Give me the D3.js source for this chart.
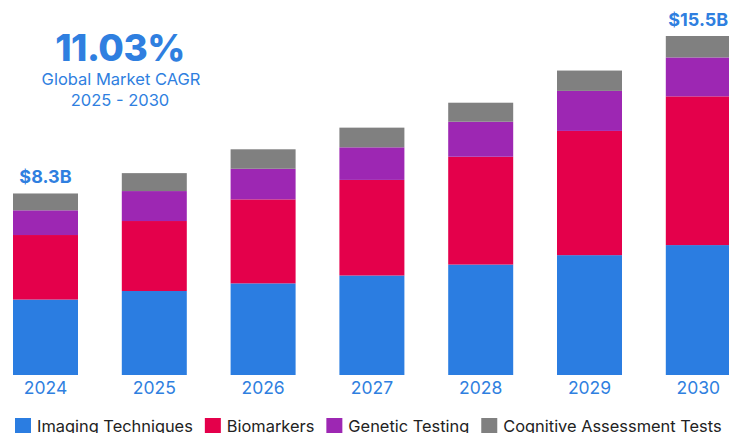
<!DOCTYPE html>
<html>
<head>
<meta charset="utf-8">
<script src="https://cdn.jsdelivr.net/npm/d3@7"></script>
<style>
  html, body { margin: 0; padding: 0; background: #fff; overflow: hidden; }
  svg { display: block; font-family: Inter, "Noto Sans", sans-serif; }
</style>
</head>
<body>
<div id="chart"></div>
<script>
const WIDTH = 729;
const HEIGHT = 433;
const BASELINE = 375;

// data (USD billions)
const years = ['2024', '2025', '2026', '2027', '2028', '2029', '2030'];
const segments = ['Imaging Techniques', 'Biomarkers', 'Genetic Testing', 'Cognitive Assessment Tests'];
const imaging   = [3.45, 3.84, 4.19, 4.55, 5.05, 5.48, 5.94];
const biomarker = [2.95, 3.20, 3.84, 4.37, 4.93, 5.68, 6.80];
const genetic   = [1.13, 1.37, 1.40, 1.49, 1.60, 1.83, 1.78];
const cognitive = [0.77, 0.82, 0.89, 0.90, 0.87, 0.93, 0.98];
const totalLabels = { '2024': '$8.3B', '2030': '$15.5B' };

const COLORS = ['#2B7DE1', '#E4004B', '#9D27B3', '#808080'];
const BLUE_TEXT = '#2F7FE0';

const rows = years.map((y, i) => ({
  year: y,
  'Imaging Techniques': imaging[i],
  'Biomarkers': biomarker[i],
  'Genetic Testing': genetic[i],
  'Cognitive Assessment Tests': cognitive[i]
}));

const svg = d3.select('#chart')
  .append('svg')
    .attr('width', WIDTH)
    .attr('height', HEIGHT);

const xscale = d3.scaleBand()
  .domain(years)
  .range([13, 730.8])
  .paddingInner(0.4026)
  .paddingOuter(0);

const yscale = d3.scaleLinear()
  .domain([0, 15.5])
  .range([BASELINE, BASELINE - 339]);

const stack = d3.stack().keys(segments);
const series = stack(rows);

svg.selectAll('g.layer')
  .data(series)
  .enter()
  .append('g')
    .attr('class', 'layer')
    .attr('fill', (d, i) => COLORS[i])
  .selectAll('rect')
  .data(d => d)
  .enter()
  .append('rect')
    .attr('x', d => xscale(d.data.year))
    .attr('y', d => yscale(d[1]))
    .attr('width', xscale.bandwidth())
    .attr('height', d => yscale(d[0]) - yscale(d[1]));

// total labels on first and last bar
svg.selectAll('text.total')
  .data(rows.filter(r => totalLabels[r.year]))
  .enter()
  .append('text')
    .attr('class', 'total')
    .attr('x', d => xscale(d.year) + xscale.bandwidth() / 2)
    .attr('y', d => yscale(d3.sum(segments, k => d[k])) - 10)
    .attr('text-anchor', 'middle')
    .attr('fill', BLUE_TEXT)
    .style('font-size', '18px')
    .style('font-weight', 700)
    .text(d => totalLabels[d.year]);

// x axis labels
const axisBottom = d3.axisBottom(xscale).tickSize(0).tickPadding(0);
const xAxis = svg.append('g')
  .attr('transform', `translate(0, ${BASELINE})`)
  .call(axisBottom);
xAxis.select('.domain').remove();
xAxis.selectAll('text')
  .attr('dy', null)
  .attr('y', 19)
  .attr('fill', BLUE_TEXT)
  .style('font-family', 'Inter, "Noto Sans", sans-serif')
  .style('font-size', '17.5px');

// CAGR annotation
const note = svg.append('g').attr('text-anchor', 'middle').attr('fill', BLUE_TEXT);
note.append('text')
  .attr('x', 120).attr('y', 61)
  .style('font-size', '37px')
  .style('font-weight', 800)
  .style('letter-spacing', '-0.5px')
  .text('11.03%');
note.append('text')
  .attr('x', 121).attr('y', 85)
  .style('font-size', '16.5px')
  .text('Global Market CAGR');
note.append('text')
  .attr('x', 120).attr('y', 106)
  .style('font-size', '16.5px')
  .text('2025 - 2030');

// legend
const legend = svg.append('g').attr('transform', 'translate(15, 418)');
let lx = 0;
segments.forEach((s, i) => {
  const item = legend.append('g').attr('transform', `translate(${lx}, 0)`);
  item.append('rect')
    .attr('width', 16).attr('height', 16)
    .attr('fill', COLORS[i]);
  const t = item.append('text')
    .attr('x', 22).attr('y', 14)
    .attr('fill', '#222')
    .style('font-size', '16.4px')
    .text(s);
  lx += 22 + t.node().getComputedTextLength() + 12;
});
</script>
</body>
</html>
